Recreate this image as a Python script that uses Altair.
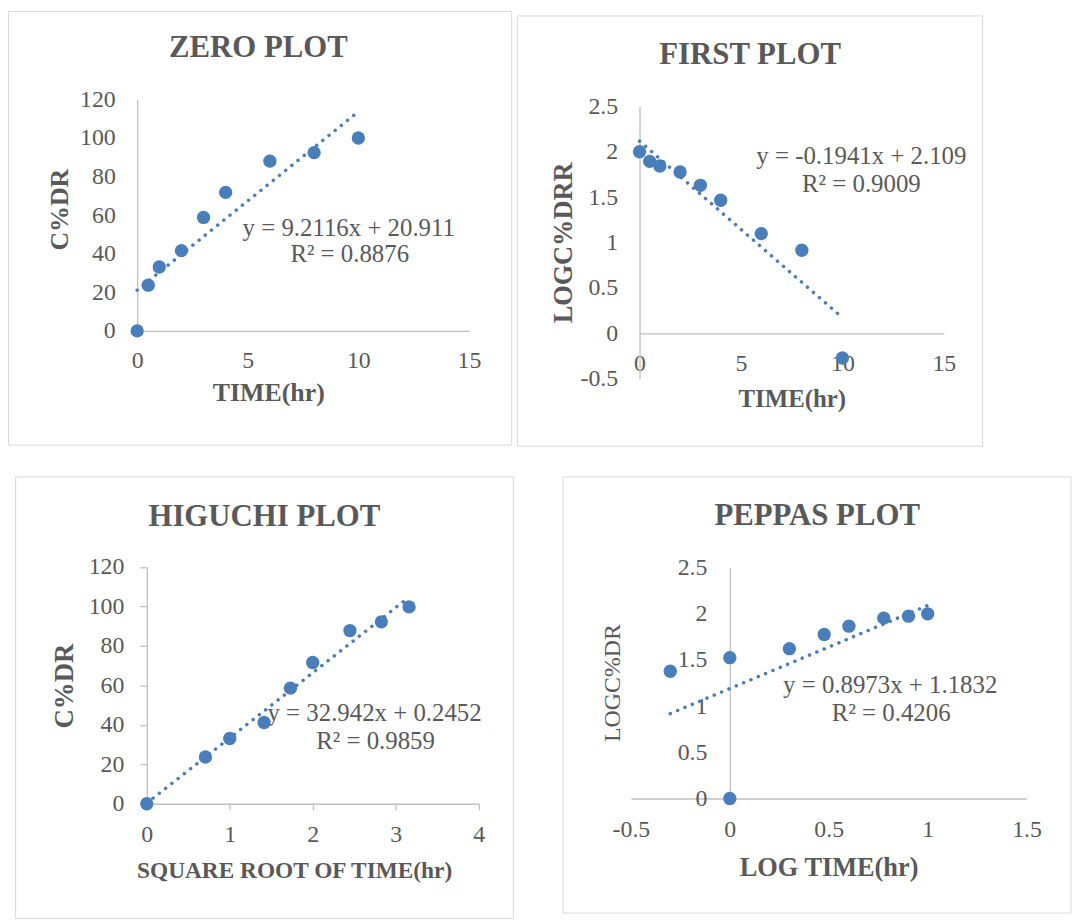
import altair as alt
import pandas as pd

# ---------------- data ----------------
time_hr = [0, 0.5, 1, 2, 3, 4, 6, 8, 10]
zero_cdr = [0, 23.7, 33.1, 41.6, 58.8, 71.8, 88.0, 92.4, 100.0]
first_log_drr = [2.0, 1.894, 1.843, 1.777, 1.631, 1.466, 1.099, 0.916, -0.27]
higuchi_sqrt_time = [0, 0.707, 1.0, 1.414, 1.732, 2.0, 2.449, 2.828, 3.162]
higuchi_cdr = [0, 23.7, 33.1, 41.2, 58.6, 71.6, 87.8, 92.2, 99.8]
peppas_log_time = [-0.301, 0, 0, 0.301, 0.477, 0.602, 0.778, 0.903, 1.0]
peppas_log_cdr = [1.378, 1.525, 0, 1.622, 1.776, 1.866, 1.953, 1.974, 2.0]

titles = ["ZERO PLOT", "FIRST PLOT", "HIGUCHI PLOT", "PEPPAS PLOT"]
x_titles = ["TIME(hr)", "TIME(hr)", "SQUARE ROOT OF TIME(hr)", "LOG TIME(hr)"]
y_titles = ["C%DR", "LOGC%DRR", "C%DR", "LOGC%DR"]
equations = ["y = 9.2116x + 20.911", "y = -0.1941x + 2.109",
             "y = 32.942x + 0.2452", "y = 0.8973x + 1.1832"]
r_squared = ["R² = 0.8876", "R² = 0.9009", "R² = 0.9859", "R² = 0.4206"]

x_ticks = [[0, 5, 10, 15], [0, 5, 10, 15], [0, 1, 2, 3, 4], [-0.5, 0, 0.5, 1, 1.5]]
y_ticks = [[0, 20, 40, 60, 80, 100, 120], [-0.5, 0, 0.5, 1, 1.5, 2, 2.5],
           [0, 20, 40, 60, 80, 100, 120], [0, 0.5, 1, 1.5, 2, 2.5]]
x_domains = [[0, 15], [0, 15], [0, 4], [-0.5, 1.5]]
y_domains = [[0, 120], [-0.5, 2.5], [0, 120], [0, 2.5]]

# ---------------- style ----------------
FONT = "Liberation Serif"
TXT = "#595959"
AXIS = "#BFBFBF"
BORDER = "#D9D9D9"
BLUE = "#4A7EBB"
W, H = 1071, 914          # one shared canvas holding the four panels

# panel layout in canvas pixels
specs = [
    dict(px=(130, 464), py=(89, 322), border=(0.5, 507, 0.5, 437),
         title=(252, 37), ytitle=(52, 199.5, 26, "bold"), xtitle=(262, 384, 26),
         eq=(343, 218, 344, 245), ticks=False, xtick=0, ytick=0, xlp=30, ylp=22),
    dict(px=(635.7, 942), py=(96, 370.3), border=(512.7, 981, 5, 438),
         title=(747, 44), ytitle=(559, 233, 26.5, "bold"), xtitle=(789, 390, 25),
         eq=(859, 146, 859, 174), ticks=False, xtick=0, ytick=0, xlp=30, ylp=22),
    dict(px=(139.7, 473.7), py=(559.7, 798), border=(7.7, 508.7, 469, 913.5),
         title=(258, 509), ytitle=(57, 679, 27, "bold"), xtitle=(288, 865, 23.5),
         eq=(369, 707, 370, 735), ticks=True, xtick=6, ytick=7, xlp=25, ylp=16),
    dict(px=(627, 1025.3), py=(560.3, 792.7), border=(558.7, 1070, 469, 908),
         title=(814.5, 508.7), ytitle=(608.7, 676, 24, "normal"), xtitle=(826, 862, 26.5),
         eq=(888, 679, 889, 707), ticks=False, xtick=0, ytick=0, xlp=31, ylp=23),
]


def panel_layers(xs, ys, i):
    s = specs[i]
    df = pd.DataFrame({"x": xs, "y": ys})
    ann = pd.DataFrame({"title": [titles[i]], "eq": [equations[i]], "r2": [r_squared[i]]})
    (x0, x1), (yt, yb) = s["px"], s["py"]
    xd, yd = x_domains[i], y_domains[i]
    # pixel position of the value-0 lines, where the axes cross
    x_line = x0 + (0 - xd[0]) / (xd[1] - xd[0]) * (x1 - x0)
    y_line = yb - (0 - yd[0]) / (yd[1] - yd[0]) * (yb - yt)

    x_axis = alt.Axis(
        orient="bottom", offset=y_line - H,
        values=x_ticks[i], title=x_titles[i], grid=False,
        ticks=s["ticks"], tickSize=s["xtick"], tickColor=AXIS, tickWidth=1.3,
        domainColor=AXIS, domainWidth=1.3,
        labelFont=FONT, labelFontSize=24, labelColor=TXT, labelPadding=s["xlp"],
        labelBaseline="middle", labelFlush=False, labelOverlap=False,
        labelExpr="toString(datum.value)",
        titleFont=FONT, titleFontSize=s["xtitle"][2], titleFontWeight="bold",
        titleColor=TXT, titleX=s["xtitle"][0], titleY=s["xtitle"][1] - y_line,
        titleAlign="center", titleBaseline="middle",
    )
    y_axis = alt.Axis(
        orient="left", offset=-x_line,
        values=y_ticks[i], title=y_titles[i], grid=False,
        ticks=s["ticks"], tickSize=s["ytick"], tickColor=AXIS, tickWidth=1.3,
        domainColor=AXIS, domainWidth=1.3,
        labelFont=FONT, labelFontSize=24, labelColor=TXT, labelPadding=s["ylp"],
        labelAlign="right", labelBaseline="middle", labelFlush=False, labelOverlap=False,
        labelExpr="toString(datum.value)",
        titleFont=FONT, titleFontSize=s["ytitle"][2], titleFontWeight=s["ytitle"][3],
        titleColor=TXT, titleX=s["ytitle"][0] - x_line, titleY=s["ytitle"][1],
        titleAlign="center", titleBaseline="middle", titleAngle=270,
    )
    xsc = alt.Scale(domain=xd, range=[x0, x1], nice=False, zero=False)
    ysc = alt.Scale(domain=yd, range=[yb, yt], nice=False, zero=False)
    X = alt.X("x:Q", scale=xsc, axis=x_axis)
    Y = alt.Y("y:Q", scale=ysc, axis=y_axis)

    b = s["border"]
    border = alt.Chart(ann).mark_rect(fillOpacity=0, stroke=BORDER, strokeWidth=1).encode(
        x=alt.value(b[0]), x2=alt.value(b[1]), y=alt.value(b[2]), y2=alt.value(b[3]))
    title = alt.Chart(ann).mark_text(
        font=FONT, fontSize=31, fontWeight="bold", color=TXT, align="center", baseline="middle"
    ).encode(x=alt.value(s["title"][0]), y=alt.value(s["title"][1]), text="title:N")
    eq = alt.Chart(ann).mark_text(
        font=FONT, fontSize=25, color=TXT, align="center", baseline="middle"
    ).encode(x=alt.value(s["eq"][0]), y=alt.value(s["eq"][1]), text="eq:N")
    r2 = alt.Chart(ann).mark_text(
        font=FONT, fontSize=25, color=TXT, align="center", baseline="middle"
    ).encode(x=alt.value(s["eq"][2]), y=alt.value(s["eq"][3]), text="r2:N")

    points = alt.Chart(df).mark_circle(size=180, color=BLUE, opacity=1).encode(x=X, y=Y)
    trend = alt.Chart(df).transform_regression("x", "y").mark_line(
        color=BLUE, strokeWidth=3.5, strokeDash=[0.1, 7.9], strokeCap="round").encode(x=X, y=Y)
    data_layer = alt.layer(points, trend)
    return [border, title, eq, r2], data_layer


decor, data_layers = [], []
for i, (xs, ys) in enumerate([(time_hr, zero_cdr), (time_hr, first_log_drr),
                              (higuchi_sqrt_time, higuchi_cdr),
                              (peppas_log_time, peppas_log_cdr)]):
    d, l = panel_layers(xs, ys, i)
    decor += d
    data_layers.append(l)

chart = alt.layer(*decor, *data_layers).resolve_scale(
    x="independent", y="independent"
).resolve_axis(
    x="independent", y="independent"
).properties(
    width=W, height=H, padding=0, background="white"
).configure_view(stroke=None)

chart.save("out.html", embed_options={"renderer": "svg", "actions": False})
